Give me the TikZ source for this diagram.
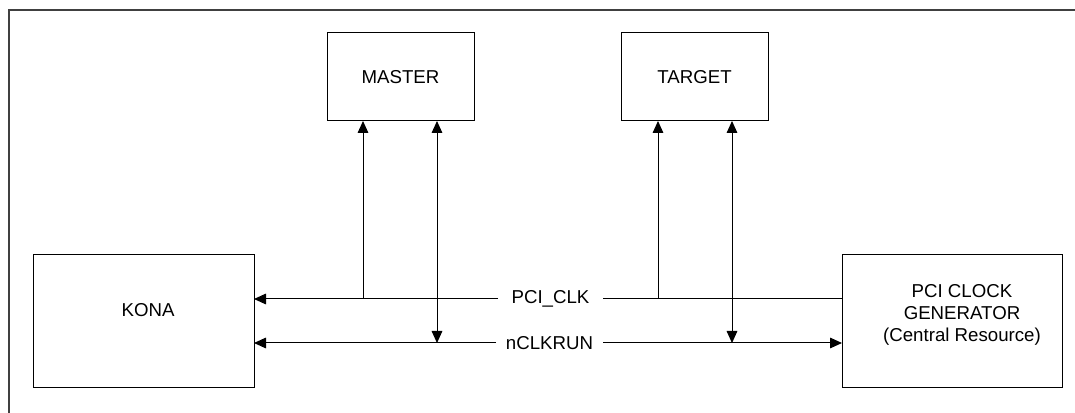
\documentclass[tikz,border=0pt]{standalone}
\usepackage{fontspec}
\setmainfont{Liberation Sans}
\usetikzlibrary{arrows.meta}
\begin{document}
\begin{tikzpicture}[x=0.75pt,y=-0.75pt,
  box/.style={draw, line width=0.75pt, inner sep=0pt, outer sep=0pt, align=center,
    font=\fontsize{14}{16.5}\selectfont},
  sig/.style={inner sep=0pt, outer sep=0pt, minimum height=14pt,
    font=\fontsize{14}{16.5}\selectfont},
  wire/.style={line width=0.75pt},
  tip/.style={-{Triangle[length=9pt,width=8pt]}},
  twotips/.style={{Triangle[length=9pt,width=8pt]}-{Triangle[length=9pt,width=8pt]}},
  lbl/.style={font=\fontsize{14}{16.5}\selectfont, align=center, inner sep=0pt}]
\useasboundingbox (0,0) rectangle (1075,413);
\draw[black!75, line width=1.5pt] (9,420) -- (9,10) -- (1080,10);

\node[box, minimum width=110.25pt, minimum height=66pt] (master) at (400.5,77) {MASTER};
\node[box, minimum width=110.25pt, minimum height=66pt] (target) at (694.5,77) {TARGET};
\node[box, minimum width=165.75pt, minimum height=99.75pt,
  label={[lbl, xshift=3.4pt, yshift=8.2pt]center:KONA}] (kona) at (143.5,321.5) {};
\node[box, minimum width=165pt, minimum height=99.75pt,
  label={[lbl, xshift=7.5pt, yshift=5pt]center:PCI CLOCK\\GENERATOR\\(Central Resource)}] (gen) at (952,321.5) {};

\node[sig, minimum width=78.75pt] (clklab) at (550.5,299) {PCI\_CLK};
\node[sig, minimum width=80.25pt] (runlab) at (549.5,343) {nCLKRUN};

\coordinate (j1) at (363,299);
\coordinate (j2) at (658,299);
\coordinate (j3) at (437,343);
\coordinate (j4) at (732,343);

\draw[wire] (gen.west |- clklab) -- (clklab.east);
\draw[wire,tip] (clklab.west) -- (kona.east |- clklab);
\draw[wire,tip] (j1) -- (master.south -| j1);
\draw[wire,tip] (j2) -- (target.south -| j2);
\draw[wire,tip] (runlab.west) -- (kona.east |- runlab);
\draw[wire,tip] (runlab.east) -- (gen.west |- runlab);
\draw[wire,twotips] (master.south -| j3) -- (j3);
\draw[wire,twotips] (target.south -| j4) -- (j4);
\end{tikzpicture}
\end{document}
